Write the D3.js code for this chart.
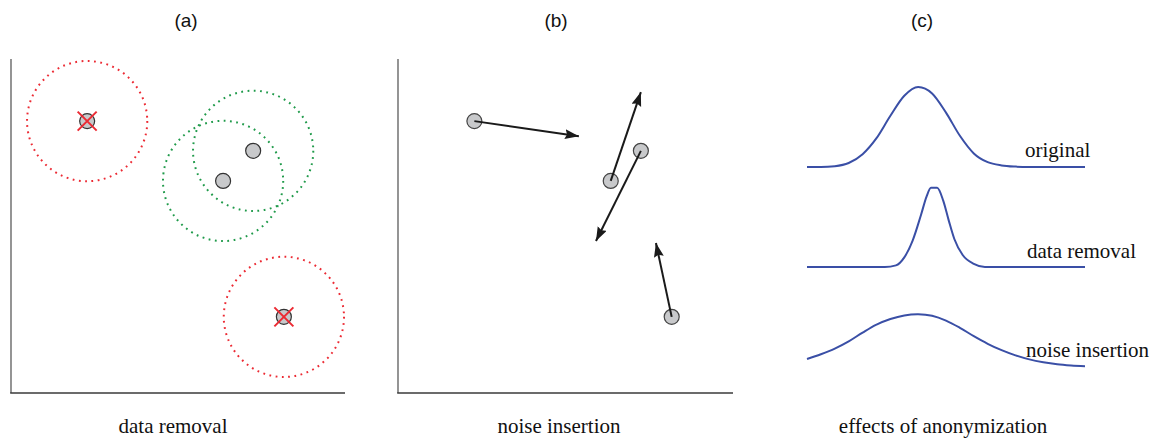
<!DOCTYPE html>
<html>
<head>
<meta charset="utf-8">
<script src="https://cdn.jsdelivr.net/npm/d3@7"></script>
<style>
  body { margin: 0; background: #fff; }
</style>
</head>
<body>
<div id="chart"></div>
<script>

// data: points share one 0-100 coordinate space in panels (a) and (b)
var pointX = [22.8, 72.5, 63.5, 81.7];
var pointY = [81.4, 72.5, 63.5, 22.8];
var removed = [true, false, false, true];
var neighbourRadius = 18;

// where each point is moved to by noise insertion
var noisyX = [54.0, 59.1, 72.5, 77.0];
var noisyY = [76.9, 45.5, 90.1, 44.9];

// panel (c) distributions, heights relative to the original peak
var originalX = [0, 5, 10, 15, 20, 25, 30, 35, 40, 45, 50, 55, 60, 65, 70, 75, 80, 85, 90, 95, 100];
var originalY = [0, 0, 0.01, 0.05, 0.16, 0.36, 0.64, 0.89, 1.0, 0.92, 0.68, 0.39, 0.17, 0.06, 0.02, 0.005, 0, 0, 0, 0, 0];
var removalX = [0, 28, 32, 35, 38, 41, 43, 44.6, 46.8, 49, 51, 53, 56, 60, 64, 100];
var removalY = [0, 0, 0.02, 0.12, 0.33, 0.65, 0.88, 0.99, 0.99, 0.83, 0.58, 0.35, 0.15, 0.04, 0, 0];
var noiseX = [0, 5, 10, 15, 20, 25, 30, 35, 40, 45, 50, 55, 60, 65, 70, 75, 80, 85, 90, 95, 100];
var noiseY = [0.10, 0.16, 0.23, 0.32, 0.43, 0.53, 0.60, 0.645, 0.66, 0.64, 0.58, 0.49, 0.385, 0.29, 0.21, 0.145, 0.095, 0.06, 0.035, 0.02, 0.01];

var curveNames = ["original", "data removal", "noise insertion"];
var panelTitles = ["(a)", "(b)", "(c)"];
var panelLabels = ["data removal", "noise insertion", "effects of anonymization"];

var width = 1154, height = 440;

var svg = d3.select("#chart")
  .append("svg")
    .attr("width", width)
    .attr("height", height);

svg.append("defs").append("marker")
    .attr("id", "arrow")
    .attr("markerUnits", "userSpaceOnUse")
    .attr("markerWidth", 16)
    .attr("markerHeight", 12)
    .attr("refX", 14)
    .attr("refY", 5)
    .attr("orient", "auto")
  .append("path")
    .attr("d", "M0,0L14,5L0,10L2,5Z")
    .attr("fill", "#1a1a1a");

// scales for the two scatter panels
var y = d3.scaleLinear().domain([0, 100]).range([393, 59]);
var xa = d3.scaleLinear().domain([0, 100]).range([11, 345]);
var xb = d3.scaleLinear().domain([0, 100]).range([398, 733]);

function drawFrame(x) {
  svg.append("line")
      .attr("x1", x(0)).attr("x2", x(0))
      .attr("y1", y(100)).attr("y2", y(0))
      .attr("stroke", "#7a7a7a")
      .attr("stroke-width", 1.6);
  svg.append("line")
      .attr("x1", x(0) - 0.8).attr("x2", x(100))
      .attr("y1", y(0)).attr("y2", y(0))
      .attr("stroke", "#3a3a3a")
      .attr("stroke-width", 1.6);
}

// ---- panel (a) ----
drawFrame(xa);

var ga = svg.append("g");
ga.selectAll(".hood")
  .data(pointX)
  .enter().append("circle")
    .attr("cx", function(d) { return xa(d); })
    .attr("cy", function(d, i) { return y(pointY[i]); })
    .attr("r", xa(neighbourRadius) - xa(0))
    .attr("fill", "none")
    .attr("stroke", function(d, i) { return removed[i] ? "#ec2a33" : "#1f9a4a"; })
    .attr("stroke-width", 2)
    .attr("stroke-dasharray", "1.8 4.5");

ga.selectAll(".pt")
  .data(pointX)
  .enter().append("circle")
    .attr("cx", function(d) { return xa(d); })
    .attr("cy", function(d, i) { return y(pointY[i]); })
    .attr("r", 7.5)
    .attr("fill", "#c8c9cb")
    .attr("stroke", "#333")
    .attr("stroke-width", 1.2);

pointX.forEach(function(d, i) {
  if (!removed[i]) return;
  var cx = xa(d), cy = y(pointY[i]), s = 9.5;
  ga.append("path")
      .attr("d", "M" + (cx - s) + "," + (cy - s) + "L" + (cx + s) + "," + (cy + s) +
                 "M" + (cx + s) + "," + (cy - s) + "L" + (cx - s) + "," + (cy + s))
      .attr("stroke", "#ec2a33")
      .attr("stroke-width", 2);
});

// ---- panel (b) ----
drawFrame(xb);

var gb = svg.append("g");
gb.selectAll(".pt")
  .data(pointX)
  .enter().append("circle")
    .attr("cx", function(d) { return xb(d); })
    .attr("cy", function(d, i) { return y(pointY[i]); })
    .attr("r", 7.5)
    .attr("fill", "#c8c9cb")
    .attr("stroke", "#444")
    .attr("stroke-width", 1.2);

gb.selectAll(".arrow")
  .data(pointX)
  .enter().append("line")
    .attr("x1", function(d) { return xb(d); })
    .attr("y1", function(d, i) { return y(pointY[i]); })
    .attr("x2", function(d, i) { return xb(noisyX[i]); })
    .attr("y2", function(d, i) { return y(noisyY[i]); })
    .attr("stroke", "#1a1a1a")
    .attr("stroke-width", 2)
    .attr("marker-end", "url(#arrow)");

// ---- panel (c) ----
var xc = d3.scaleLinear().domain([0, 100]).range([807, 1085]);
var rowBase = [167, 267, 367];
var curves = [[originalX, originalY], [removalX, removalY], [noiseX, noiseY]];
var curveTypes = [d3.curveMonotoneX, d3.curveMonotoneX, d3.curveCatmullRom.alpha(0.5)];

curves.forEach(function(c, k) {
  var yc = d3.scaleLinear().domain([0, 1]).range([rowBase[k], rowBase[k] - 80]);
  var line = d3.line()
    .x(function(d) { return xc(d[0]); })
    .y(function(d) { return yc(d[1]); })
    .curve(curveTypes[k]);
  svg.append("path")
      .datum(d3.zip(c[0], c[1]))
      .attr("d", line)
      .attr("fill", "none")
      .attr("stroke", "#3a4fa6")
      .attr("stroke-width", 2);
});

svg.selectAll(".curveName")
  .data(curveNames)
  .enter().append("text")
    .attr("x", function(d, i) { return [1025, 1027, 1026][i]; })
    .attr("y", function(d, i) { return [157, 258, 357][i]; })
    .attr("font-family", "Liberation Serif, serif")
    .attr("font-size", 21)
    .attr("fill", "#111")
    .text(function(d) { return d; });

// titles and bottom captions
svg.selectAll(".title")
  .data(panelTitles)
  .enter().append("text")
    .attr("x", function(d, i) { return [186, 556, 922][i]; })
    .attr("y", 27)
    .attr("text-anchor", "middle")
    .attr("font-family", "Liberation Sans, Arial, sans-serif")
    .attr("font-size", 19)
    .attr("fill", "#111")
    .text(function(d) { return d; });

svg.selectAll(".caption")
  .data(panelLabels)
  .enter().append("text")
    .attr("x", function(d, i) { return [173, 559, 943][i]; })
    .attr("y", 433)
    .attr("text-anchor", "middle")
    .attr("font-family", "Liberation Serif, serif")
    .attr("font-size", 21)
    .attr("fill", "#111")
    .text(function(d) { return d; });

</script>
</body>
</html>
